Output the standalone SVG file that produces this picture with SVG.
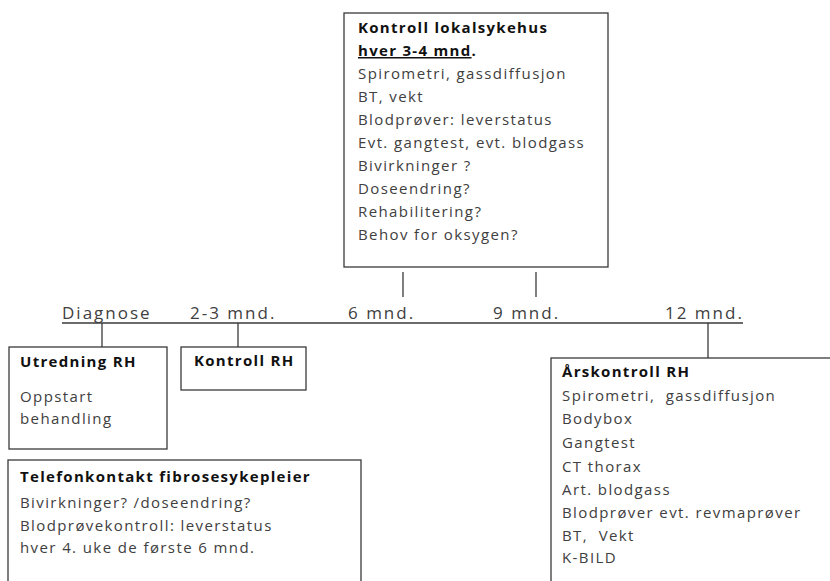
<svg xmlns="http://www.w3.org/2000/svg" width="830" height="581" viewBox="0 0 830 581">
<style>
  .box { fill: #ffffff; stroke: #3a3a3a; stroke-width: 1.3; }
  .ln { stroke: #3a3a3a; stroke-width: 1.3; fill: none; }
  text { font-family: "Open Sans", Lato, "Liberation Sans", sans-serif; font-size: 15px; letter-spacing: 1.4px; fill: #404040; }
  .b { font-weight: bold; fill: #111111; letter-spacing: 1.3px; }
  .tl { font-size: 17px; letter-spacing: 2px; fill: #404040; }
  .pre { white-space: pre; }
</style>
<rect width="830" height="581" fill="#ffffff"/>
<g id="connectors">
  <line class="ln" x1="62" y1="323" x2="743" y2="323"/>
  <line class="ln" x1="403" y1="272" x2="403" y2="297"/>
  <line class="ln" x1="536" y1="272" x2="536" y2="297"/>
  <line class="ln" x1="102" y1="323" x2="102" y2="347"/>
  <line class="ln" x1="238" y1="323" x2="238" y2="347"/>
  <line class="ln" x1="708" y1="323" x2="708" y2="358"/>
</g>
<g id="timeline-labels">
  <text class="tl" x="62" y="319">Diagnose</text>
  <text class="tl" x="190" y="319">2-3 mnd.</text>
  <text class="tl" x="348" y="319">6 mnd.</text>
  <text class="tl" x="493" y="319">9 mnd.</text>
  <text class="tl" x="665" y="319">12 mnd.</text>
</g>
<g id="kontroll-lokalsykehus">
  <rect class="box" x="344" y="13" width="264" height="254"/>
  <text class="b" x="358" y="33">Kontroll lokalsykehus</text>
  <text class="b" x="358" y="56"><tspan text-decoration="underline">hver 3-4 mnd</tspan>.</text>
  <text x="358" y="79">Spirometri, gassdiffusjon</text>
  <text x="358" y="102">BT, vekt</text>
  <text x="358" y="125">Blodprøver: leverstatus</text>
  <text x="358" y="148">Evt. gangtest, evt. blodgass</text>
  <text x="358" y="171">Bivirkninger ?</text>
  <text x="358" y="194">Doseendring?</text>
  <text x="358" y="217">Rehabilitering?</text>
  <text x="358" y="240">Behov for oksygen?</text>
</g>
<g id="utredning-rh">
  <rect class="box" x="9" y="347" width="158" height="102"/>
  <text class="b" x="20" y="367">Utredning RH</text>
  <text x="20" y="402">Oppstart</text>
  <text x="20" y="424">behandling</text>
</g>
<g id="kontroll-rh">
  <rect class="box" x="181" y="347" width="125" height="43"/>
  <text class="b" x="194" y="366">Kontroll RH</text>
</g>
<g id="telefonkontakt">
  <rect class="box" x="8" y="460" width="353" height="140"/>
  <text class="b" x="20" y="482">Telefonkontakt fibrosesykepleier</text>
  <text x="20" y="508">Bivirkninger? /doseendring?</text>
  <text x="20" y="531">Blodprøvekontroll: leverstatus</text>
  <text x="20" y="553">hver 4. uke de første 6 mnd.</text>
</g>
<g id="arskontroll-rh">
  <rect class="box" x="551" y="358" width="300" height="240"/>
  <text class="b" x="562" y="377">Årskontroll RH</text>
  <text class="pre" x="562" y="401">Spirometri,  gassdiffusjon</text>
  <text x="562" y="424">Bodybox</text>
  <text x="562" y="448">Gangtest</text>
  <text x="562" y="472">CT thorax</text>
  <text x="562" y="495">Art. blodgass</text>
  <text x="562" y="518">Blodprøver evt. revmaprøver</text>
  <text class="pre" x="562" y="541">BT,  Vekt</text>
  <text x="562" y="563">K-BILD</text>
</g>
</svg>
